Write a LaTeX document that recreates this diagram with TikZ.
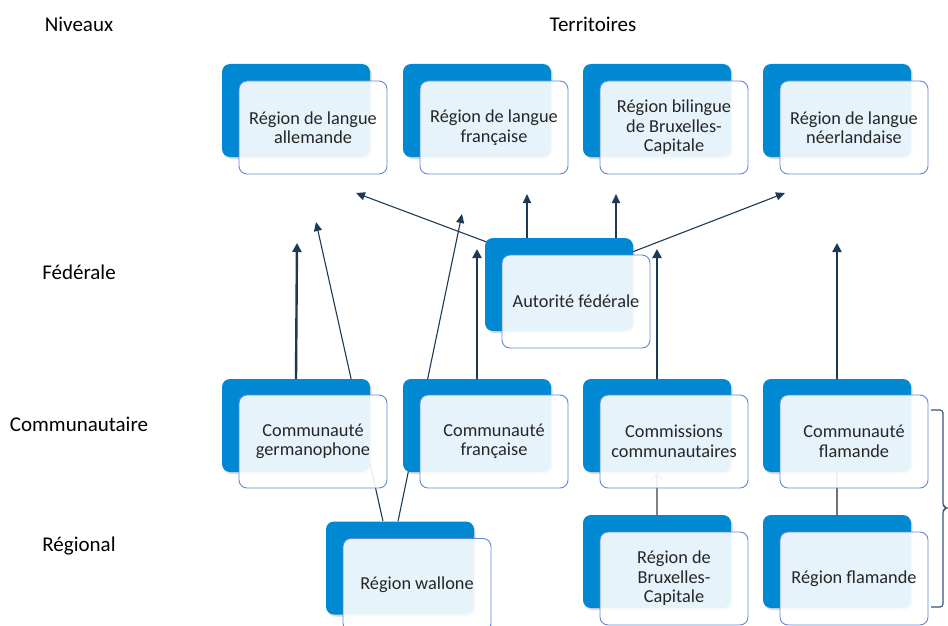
\documentclass[tikz,border=0pt]{standalone}
\usepackage{fontspec}
\setmainfont{Carlito}
\usetikzlibrary{arrows.meta,shadows,backgrounds}
\definecolor{backblue}{RGB}{0,136,210}
\definecolor{frontline}{RGB}{96,136,212}
\definecolor{arrowblue}{RGB}{28,58,84}
\definecolor{bracecol}{RGB}{55,85,115}
\definecolor{txtgray}{RGB}{38,38,38}
\definecolor{linkgray}{RGB}{125,130,135}

\begin{document}
\begin{tikzpicture}[x=1pt,y=-1pt,
    backbox/.style={rectangle, rounded corners=8pt, fill=backblue,
      minimum width=148, minimum height=93,
      drop shadow={shadow xshift=1.5pt, shadow yshift=-2pt, opacity=0.3}},
    frontbox/.style={rectangle, rounded corners=8pt, draw=frontline, line width=0.9pt,
      fill=white, fill opacity=0.9, text opacity=1, text=txtgray,
      minimum width=148, minimum height=93, align=center,
      font=\fontsize{18.3}{19.5}\selectfont},
    level/.style={font=\fontsize{21}{24}\selectfont, text=black},
    bigarrow/.style={draw=arrowblue, line width=2.4pt, -{Triangle[length=9pt,width=9pt]}},
    thinarrow/.style={draw=arrowblue, line width=1.1pt, -{Triangle[length=9pt,width=8pt]}}
  ]
  \useasboundingbox (0,0) rectangle (948,626);

  % levels
  \node[level] (niv) at (79,24) {Niveaux};
  \node[level] (terr) at (593,24) {Territoires};
  \node[level] (fed) at (79,272) {Fédérale};
  \node[level] (comm) at (79,424) {Communautaire};
  \node[level] (reg) at (79,546) {Régional};

  % territoires
  \node[backbox] (rall-b) at (296,110.5) {};
  \node[frontbox] (rall) at ([shift={(17,17)}]rall-b.center) {Région de langue\\allemande};
  \node[backbox] (rfr-b) at (477,110.5) {};
  \node[frontbox] (rfr) at ([shift={(17,17)}]rfr-b.center) {Région de langue\\française};
  \node[backbox] (rbil-b) at (657,110.5) {};
  \node[frontbox] (rbil) at ([shift={(17,17)}]rbil-b.center) {Région bilingue\\de Bruxelles-\\Capitale};
  \node[backbox] (rnl-b) at (837,110.5) {};
  \node[frontbox] (rnl) at ([shift={(17,17)}]rnl-b.center) {Région de langue\\néerlandaise};

  % federal
  \node[backbox] (aut-b) at (559,284.5) {};
  \node[frontbox] (aut) at ([shift={(17,17)}]aut-b.center) {Autorité fédérale};

  % communautes
  \node[backbox] (cger-b) at (296,425.5) {};
  \node[frontbox] (cger) at ([shift={(17,16)}]cger-b.center) {Communauté\\germanophone};
  \node[backbox] (cfr-b) at (477,425.5) {};
  \node[frontbox] (cfr) at ([shift={(17,16)}]cfr-b.center) {Communauté\\française};
  \node[backbox] (ccom-b) at (657,425.5) {};
  \node[frontbox] (ccom) at ([shift={(17,16)}]ccom-b.center) {Commissions\\communautaires};
  \node[backbox] (cfl-b) at (837,425.5) {};
  \node[frontbox] (cfl) at ([shift={(17,16)}]cfl-b.center) {Communauté\\flamande};

  % regions
  \node[backbox] (rwal-b) at (400,568) {};
  \node[frontbox] (rwal) at ([shift={(17,17)}]rwal-b.center) {Région wallone};
  \node[backbox] (rbxl-b) at (657,561.5) {};
  \node[frontbox] (rbxl) at ([shift={(17,17)}]rbxl-b.center) {Région de\\Bruxelles-\\Capitale};
  \node[backbox] (rfl-b) at (837,561.5) {};
  \node[frontbox] (rfl) at ([shift={(17,17)}]rfl-b.center) {Région flamande};

  % free arrow ends
  \coordinate (t1) at (297,243);
  \coordinate (t2) at (316,222);
  \coordinate (t3) at (356,193);
  \coordinate (t4) at (462,214);
  \coordinate (t5) at (477,249);
  \coordinate (t6) at (527,194);
  \coordinate (t7) at (616,194);
  \coordinate (t8) at (657,249);
  \coordinate (t9) at (785,193);
  \coordinate (t10) at (837,243);
  \coordinate (btop) at (931,410);
  \coordinate (bbot) at (931,607);

  \begin{scope}[on background layer]
    \draw[bigarrow] (cger-b.north) -- (t1);
    \draw[bigarrow] (cfr-b.north) -- (t5);
    \draw[bigarrow] (ccom-b.north) -- (t8);
    \draw[bigarrow] (cfl-b.north) -- (t10);
    \draw[thinarrow] ([shift={(-17,0)}]rwal-b.north) -- (t2);
    \draw[thinarrow] ([shift={(-2,0)}]rwal-b.north) -- (t4);
    \draw[thinarrow] ([shift={(4,5)}]aut-b.north west) -- (t3);
    \draw[thinarrow, line width=1.6pt] ([shift={(-32,0)}]aut-b.north) -- (t6);
    \draw[thinarrow, line width=1.6pt] ([shift={(57,0)}]aut-b.north) -- (t7);
    \draw[thinarrow] ([shift={(-3,15)}]aut-b.north east) -- (t9);
    \draw[draw=linkgray, line width=1.4pt, -{Straight Barb[length=5pt,width=11pt]}]
      (rbxl-b.north) -- ([shift={(0,1)}]ccom-b.south);
    \draw[draw=linkgray!80!arrowblue, line width=1.2pt] (rfl-b.north) -- (cfl-b.south);
  \end{scope}

  % accolade
  \draw[bracecol, line width=1.1pt, rounded corners=3pt]
    (btop) -- ++(12,0) -- ++(0,96) -- ++(4,2) -- ++(-4,2) |- (bbot);
\end{tikzpicture}
\end{document}
